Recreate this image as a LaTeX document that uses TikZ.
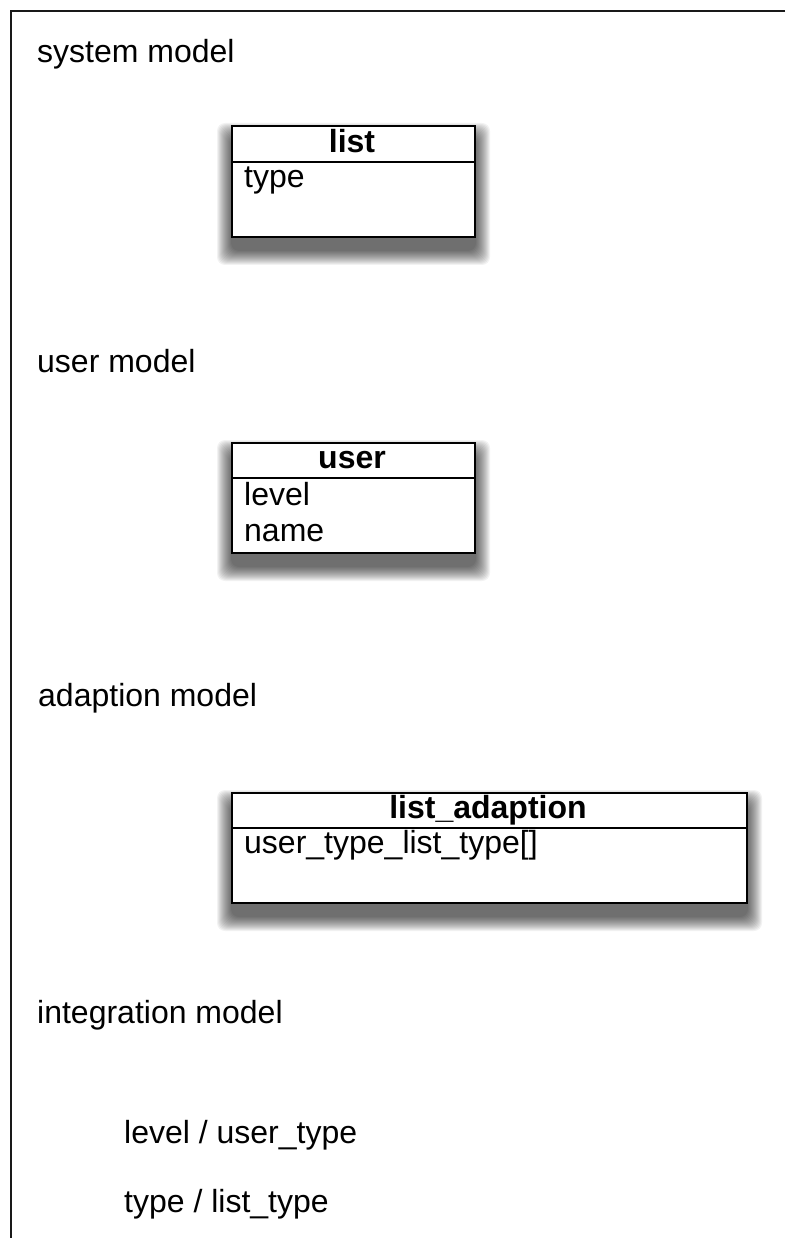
\documentclass[tikz,border=0pt]{standalone}
\usepackage{fontspec}
\setmainfont{Liberation Sans}
\usetikzlibrary{backgrounds}
% soft drop shadow under a named box, built from stacked translucent layers
\newcommand\castshadow[1]{%
  \begin{scope}[on background layer]
    \foreach \i in {0,...,14}{%
      \fill[black,opacity=0.05,rounded corners=8pt]
        ([xshift=\i pt-14pt,yshift=2pt-\i pt]#1.north west) rectangle
        ([xshift=14pt-\i pt,yshift=\i pt-27pt]#1.south east);
    }
  \end{scope}}
\begin{document}
\begin{tikzpicture}[x=1pt,y=-1pt,
  lbl/.style={anchor=base west,inner sep=0pt,font=\fontsize{32}{37}\selectfont},
  hdr/.style={anchor=base,inner sep=0pt,font=\fontsize{32}{37}\selectfont\bfseries},
  attr/.style={anchor=base west,inner sep=0pt,font=\fontsize{32}{37}\selectfont},
  umlbox/.style={draw=black,line width=2pt,fill=white,anchor=north west,inner sep=0pt},
  divider/.style={draw=black,line width=2pt},
  frameline/.style={draw=black!90,line width=2.2pt}]
\useasboundingbox (0,0) rectangle (785,1238);
\begin{scope}[on background layer]
  \fill[white] (0,0) rectangle (785,1238);
\end{scope}
% page frame (top and left edges only)
\coordinate (ftl) at (11,11);
\coordinate (ftr) at (785,11);
\coordinate (fbl) at (11,1238);
\draw[frameline] (ftr) -- (ftl) -- (fbl);

% section captions
\node[lbl] (sys) at (37,63) {system model};
\node[lbl] (usr) at (37,372) {user model};
\node[lbl] (adp) at (38,706) {adaption model};
\node[lbl] (intg) at (37,1023) {integration model};
\node[lbl] (map1) at (124,1143) {level / user\_type};
\node[lbl] (map2) at (124,1212) {type / list\_type};

% class: list
\node[umlbox,minimum width=243pt,minimum height=111pt] (list) at (231,125) {};
\castshadow{list}
\coordinate (listdl) at (231,162);
\coordinate (listdr) at (474,162);
\draw[divider] (listdl) -- (listdr);
\node[hdr] (listname) at (352,153) {list};
\node[attr] (listtype) at (244,188) {type};

% class: user
\node[umlbox,minimum width=243pt,minimum height=110pt] (user) at (231,442) {};
\castshadow{user}
\coordinate (userdl) at (231,478);
\coordinate (userdr) at (474,478);
\draw[divider] (userdl) -- (userdr);
\node[hdr] (username) at (352,468) {user};
\node[attr] (userlevel) at (244,505) {level};
\node[attr] (username2) at (244,541) {name};

% class: list_adaption
\node[umlbox,minimum width=515pt,minimum height=110pt] (adapt) at (231,792) {};
\castshadow{adapt}
\coordinate (adaptdl) at (231,828);
\coordinate (adaptdr) at (746,828);
\draw[divider] (adaptdl) -- (adaptdr);
\node[hdr] (adaptname) at (488,818) {list\_adaption};
\node[attr] (adaptattr) at (244,853) {user\_type\_list\_type[]};
\end{tikzpicture}
\end{document}
